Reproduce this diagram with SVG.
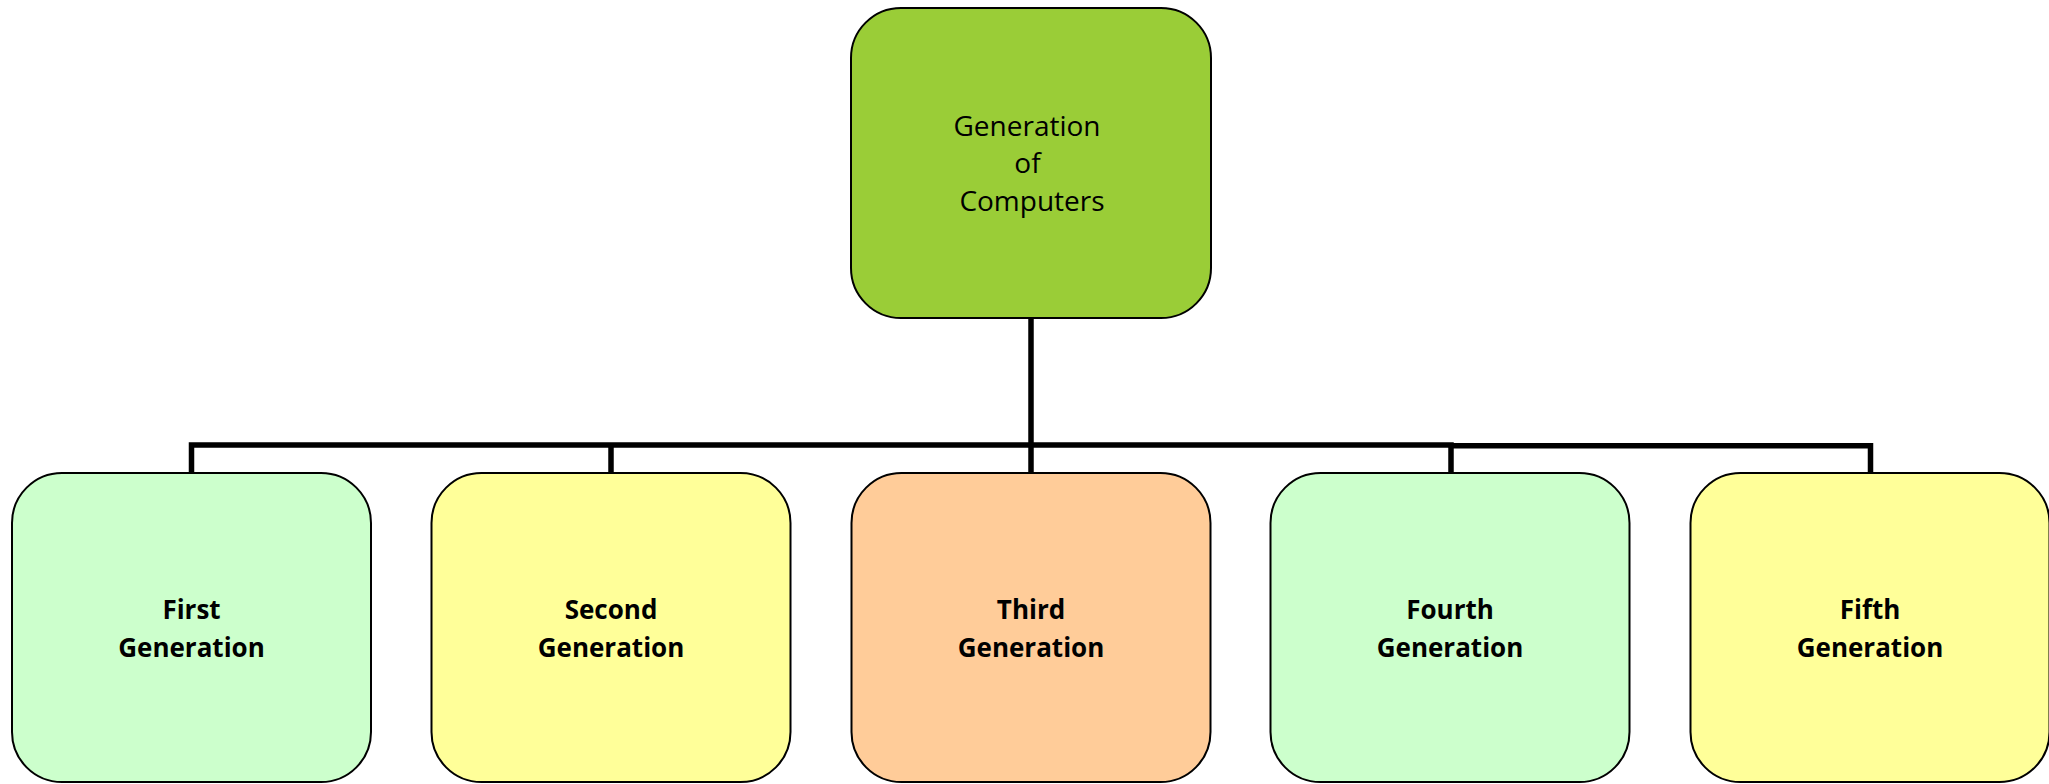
<svg xmlns="http://www.w3.org/2000/svg" width="2049" height="784" viewBox="0 0 2049 784">
  <style>
    .box { stroke: #000; stroke-width: 2; }
    .root { fill: #9ACD37; }
    .mint { fill: #CCFFCC; }
    .lemon { fill: #FFFF99; }
    .peach { fill: #FFCC99; }
    .wire { fill: none; stroke: #000; stroke-width: 5.5; stroke-linejoin: miter; stroke-linecap: butt; }
    .title { font-family: "Open Sans", "Liberation Sans", sans-serif; font-size: 28px; fill: #000; text-anchor: middle; }
    .label { font-family: "Open Sans", "Liberation Sans", sans-serif; font-size: 26px; font-weight: bold; fill: #000; text-anchor: middle; }
  </style>
  <rect width="2049" height="784" fill="#fff"/>

  <!-- tree connectors -->
  <g id="connectors">
    <path class="wire" d="M1031 318 V445"/>
    <path class="wire" d="M1031 445 H191.5 V473"/>
    <path class="wire" d="M611 445 V473"/>
    <path class="wire" d="M1031 445 V473"/>
    <path class="wire" d="M1031 445 H1451 V473"/>
    <path class="wire" d="M1451 445.8 H1870.5 V473"/>
  </g>

  <g id="node-root">
    <rect class="box root" x="851" y="8" width="360" height="310" rx="50" ry="50"/>
    <text class="title" x="1027" y="135.5">Generation</text>
    <text class="title" x="1027.5" y="173">of</text>
    <text class="title" x="1032" y="210.5">Computers</text>
  </g>

  <g id="node-first">
    <rect class="box mint" x="12" y="473" width="359" height="309" rx="50" ry="50"/>
    <text class="label" x="191.5" y="618.5">First</text>
    <text class="label" x="191.5" y="657">Generation</text>
  </g>

  <g id="node-second">
    <rect class="box lemon" x="431.5" y="473" width="359" height="309" rx="50" ry="50"/>
    <text class="label" x="611" y="618.5">Second</text>
    <text class="label" x="611" y="657">Generation</text>
  </g>

  <g id="node-third">
    <rect class="box peach" x="851.5" y="473" width="359" height="309" rx="50" ry="50"/>
    <text class="label" x="1031" y="618.5">Third</text>
    <text class="label" x="1031" y="657">Generation</text>
  </g>

  <g id="node-fourth">
    <rect class="box mint" x="1270.5" y="473" width="359" height="309" rx="50" ry="50"/>
    <text class="label" x="1450" y="618.5">Fourth</text>
    <text class="label" x="1450" y="657">Generation</text>
  </g>

  <g id="node-fifth">
    <rect class="box lemon" x="1690.5" y="473" width="359" height="309" rx="50" ry="50"/>
    <text class="label" x="1870" y="618.5">Fifth</text>
    <text class="label" x="1870" y="657">Generation</text>
  </g>
</svg>
